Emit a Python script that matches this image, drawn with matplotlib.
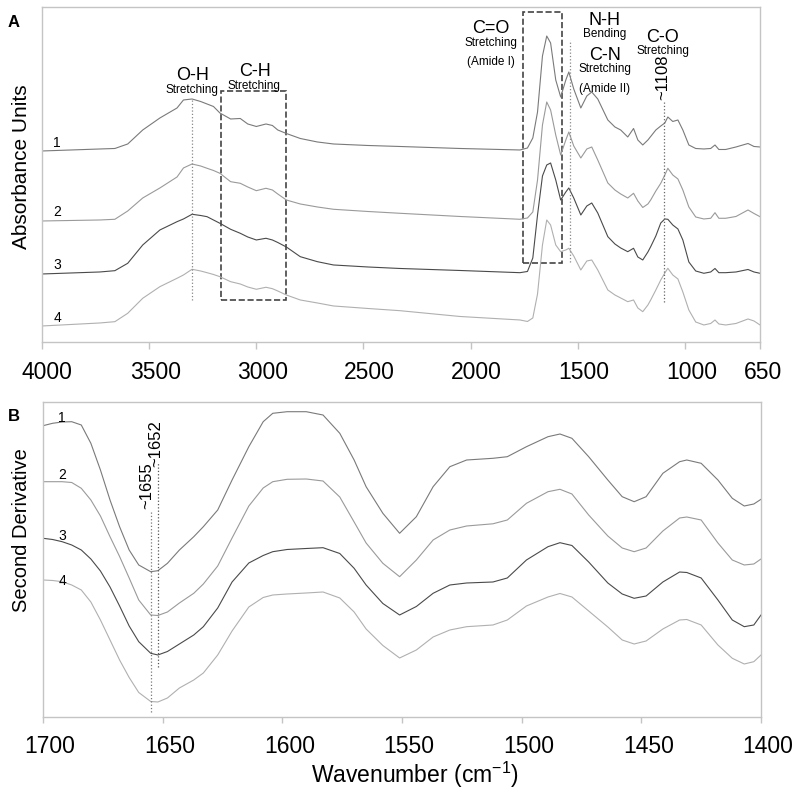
import matplotlib
matplotlib.use("Agg")
import matplotlib.pyplot as plt
from matplotlib.patches import Rectangle
from matplotlib.transforms import ScaledTranslation

plt.rcParams['font.family'] = ['Liberation Sans', 'DejaVu Sans']
plt.rcParams['mathtext.fontset'] = 'custom'
plt.rcParams['mathtext.rm'] = 'Liberation Sans'
plt.rcParams['mathtext.default'] = 'regular'

# ---- panel A: FTIR absorbance spectra (stacked, arbitrary units) ----
wn_a = [4000, 3730, 3660, 3600, 3530, 3450, 3370, 3340, 3300, 3260,
        3230, 3200, 3170, 3120, 3075, 3040, 3000, 2955, 2925, 2900,
        2860, 2795, 2715, 2640, 2480, 2330, 2050, 1770, 1735, 1710,
        1688, 1665, 1645, 1627, 1603, 1580, 1556, 1542, 1519, 1486,
        1458, 1435, 1407, 1360, 1327, 1300, 1267, 1240, 1220, 1197,
        1173, 1160, 1136, 1113, 1094, 1080, 1057, 1033, 1010, 982,
        950, 912, 880, 860, 842, 810, 762, 706, 678, 650]

abs_1 = [1.91, 1.93, 1.935, 1.98, 2.12, 2.24, 2.34, 2.42, 2.43, 2.405,
         2.38, 2.355, 2.29, 2.23, 2.235, 2.18, 2.155, 2.18, 2.165, 2.12,
         2.085, 2.035, 2.00, 1.98, 1.965, 1.955, 1.935, 1.92, 1.94, 2.04,
         2.30, 2.86, 3.06, 2.99, 2.62, 2.45, 2.62, 2.70, 2.53, 2.34,
         2.46, 2.50, 2.43, 2.22, 2.15, 2.12, 2.05, 2.135, 2.02, 1.97,
         2.02, 2.055, 2.12, 2.16, 2.19, 2.25, 2.205, 2.22, 2.12, 1.97,
         1.935, 1.93, 1.935, 1.97, 1.925, 1.925, 1.95, 1.985, 1.955, 1.95]

abs_2 = [1.21, 1.22, 1.227, 1.31, 1.44, 1.54, 1.65, 1.74, 1.78, 1.76,
         1.737, 1.715, 1.687, 1.603, 1.587, 1.55, 1.513, 1.537, 1.52, 1.48,
         1.42, 1.38, 1.35, 1.327, 1.305, 1.287, 1.255, 1.227, 1.24, 1.30,
         1.62, 2.17, 2.40, 2.32, 2.07, 1.87, 2.02, 2.10, 1.96, 1.84,
         1.93, 1.95, 1.82, 1.59, 1.52, 1.48, 1.44, 1.487, 1.41, 1.345,
         1.38, 1.42, 1.51, 1.587, 1.67, 1.737, 1.67, 1.63, 1.52, 1.35,
         1.25, 1.23, 1.237, 1.293, 1.237, 1.237, 1.255, 1.32, 1.285, 1.253]

abs_3 = [0.68, 0.70, 0.713, 0.787, 0.97, 1.12, 1.203, 1.23, 1.277, 1.265,
         1.253, 1.22, 1.187, 1.127, 1.087, 1.05, 1.02, 1.037, 1.02, 0.995,
         0.95, 0.853, 0.803, 0.77, 0.75, 0.735, 0.715, 0.693, 0.705, 0.84,
         1.27, 1.66, 1.77, 1.79, 1.62, 1.42, 1.50, 1.54, 1.44, 1.27,
         1.36, 1.39, 1.29, 1.053, 0.98, 0.94, 0.903, 0.937, 0.85, 0.82,
         0.90, 0.953, 1.06, 1.19, 1.23, 1.227, 1.17, 1.13, 1.02, 0.80,
         0.71, 0.687, 0.70, 0.735, 0.693, 0.693, 0.70, 0.725, 0.70, 0.687]

abs_4 = [0.16, 0.19, 0.203, 0.287, 0.437, 0.553, 0.637, 0.67, 0.727, 0.71,
         0.693, 0.675, 0.653, 0.603, 0.58, 0.55, 0.527, 0.547, 0.533, 0.51,
         0.47, 0.42, 0.39, 0.36, 0.335, 0.313, 0.255, 0.22, 0.205, 0.24,
         0.48, 0.97, 1.22, 1.17, 0.97, 0.903, 0.92, 0.937, 0.86, 0.72,
         0.81, 0.82, 0.72, 0.52, 0.47, 0.44, 0.403, 0.42, 0.34, 0.303,
         0.37, 0.42, 0.52, 0.62, 0.69, 0.737, 0.67, 0.63, 0.50, 0.32,
         0.20, 0.17, 0.185, 0.22, 0.18, 0.17, 0.185, 0.23, 0.21, 0.17]

ticks_a = [4000, 3500, 3000, 2500, 2000, 1500, 1000, 650]

# ---- panel B: second derivative, amide I region ----
wn_b = [1700, 1696, 1692, 1688, 1684, 1680, 1676, 1672, 1668, 1664,
        1660, 1655, 1652, 1648, 1643, 1637, 1633, 1627, 1621, 1614,
        1608, 1604, 1598, 1590, 1583, 1576, 1570, 1565, 1558, 1551,
        1544, 1537, 1530, 1523, 1512, 1506, 1498, 1489, 1484, 1479,
        1472, 1464, 1458, 1453, 1448, 1441, 1434, 1431, 1425, 1418,
        1412, 1407, 1403, 1400]

d2_1 = [2.913, 2.937, 2.95, 2.953, 2.92, 2.737, 2.47, 2.17, 1.903, 1.67,
        1.52, 1.453, 1.463, 1.537, 1.67, 1.803, 1.903, 2.07, 2.37, 2.703,
        2.953, 3.037, 3.053, 3.053, 3.02, 2.837, 2.57, 2.303, 2.037, 1.837,
        2.003, 2.303, 2.503, 2.57, 2.587, 2.603, 2.703, 2.803, 2.83, 2.787,
        2.603, 2.37, 2.203, 2.153, 2.203, 2.437, 2.553, 2.57, 2.537, 2.37,
        2.187, 2.11, 2.13, 2.177]

d2_2 = [2.353, 2.353, 2.353, 2.345, 2.287, 2.17, 2.01, 1.803, 1.605, 1.39,
        1.17, 1.02, 1.015, 1.05, 1.14, 1.237, 1.33, 1.51, 1.79, 2.11,
        2.29, 2.353, 2.377, 2.38, 2.36, 2.20, 1.95, 1.74, 1.537, 1.403,
        1.57, 1.77, 1.87, 1.91, 1.932, 1.97, 2.137, 2.253, 2.277, 2.23,
        2.02, 1.81, 1.69, 1.653, 1.69, 1.86, 1.99, 2.00, 1.97, 1.74,
        1.57, 1.52, 1.53, 1.58]

d2_3 = [1.787, 1.775, 1.753, 1.72, 1.67, 1.58, 1.46, 1.30, 1.11, 0.91,
        0.753, 0.637, 0.62, 0.655, 0.73, 0.82, 0.903, 1.09, 1.35, 1.54,
        1.615, 1.653, 1.675, 1.685, 1.693, 1.635, 1.487, 1.32, 1.135, 1.02,
        1.105, 1.237, 1.32, 1.34, 1.35, 1.39, 1.57, 1.703, 1.743, 1.715,
        1.55, 1.34, 1.23, 1.187, 1.21, 1.35, 1.45, 1.445, 1.39, 1.17,
        0.97, 0.903, 0.92, 1.02]

d2_4 = [1.37, 1.365, 1.353, 1.32, 1.27, 1.15, 0.97, 0.77, 0.57, 0.395,
        0.245, 0.155, 0.15, 0.19, 0.29, 0.37, 0.44, 0.62, 0.86, 1.10,
        1.195, 1.22, 1.23, 1.24, 1.25, 1.19, 1.05, 0.88, 0.715, 0.59,
        0.67, 0.80, 0.87, 0.903, 0.92, 0.97, 1.11, 1.20, 1.235, 1.20,
        1.06, 0.90, 0.77, 0.73, 0.76, 0.88, 0.97, 0.975, 0.92, 0.72,
        0.587, 0.53, 0.553, 0.62]

ticks_b = [1700, 1650, 1600, 1550, 1500, 1450, 1400]

sample_labels = ['1', '2', '3', '4']
line_colors = ['#7a7a7a', '#9a9a9a', '#4a4a4a', '#b0b0b0']
spine_color = '#c4c4c4'


def style_axes(ax, ticks, tick_len, shifts):
    for s in ax.spines.values():
        s.set_color(spine_color)
        s.set_linewidth(1.0)
    ax.set_yticks([])
    ax.set_xticks(ticks)
    ax.set_xticklabels([str(t) for t in ticks])
    ax.tick_params(axis='x', direction='out', length=tick_len, width=1.0,
                   color=spine_color, labelsize=16.5, pad=9)
    # the original labels sit a few pixels right of their ticks
    for lab, dx in zip(ax.get_xticklabels(), shifts):
        lab.set_transform(lab.get_transform() +
                          ScaledTranslation(dx / 100, 0, fig.dpi_scale_trans))


fig = plt.figure(figsize=(8, 7.94), dpi=100)

# Panel A
ax1 = fig.add_axes([0.0525, 0.5693, 0.8975, 0.4219])
for ys, c in zip([abs_1, abs_2, abs_3, abs_4], line_colors):
    ax1.plot(wn_a, ys, color=c, lw=0.8)
ax1.set_xlim(4000, 650)
ax1.set_ylim(0, 3.35)
style_axes(ax1, ticks_a, 5, [5, 6, 6, 6, 6, 6, 7, 2.5])

for lab, y in zip(sample_labels, [1.99, 1.30, 0.77, 0.24]):
    ax1.text(3930, y, lab, fontsize=10, ha='center', va='center')

# marker lines and boxes
ax1.plot([3298, 3298], [0.42, 2.42], ls=':', color='#888888', lw=0.9)
ax1.plot([1538, 1538], [0.80, 3.02], ls=':', color='#888888', lw=0.9)
ax1.plot([1100, 1100], [0.40, 2.42], ls=':', color='#666666', lw=0.9)
ax1.add_patch(Rectangle((3164, 0.42), 2860 - 3164, 2.513 - 0.42, fill=False,
                        ls='--', lw=1.2, ec='#444444'))
ax1.add_patch(Rectangle((1757, 0.787), 1574 - 1757, 3.303 - 0.787, fill=False,
                        ls='--', lw=1.2, ec='#444444'))

big, small = 13, 8.5
ax1.text(3299, 2.66, 'O-H', fontsize=big, ha='center', va='center')
ax1.text(3299, 2.52, 'Stretching', fontsize=small, ha='center', va='center')
ax1.text(3005, 2.70, 'C-H', fontsize=big, ha='center', va='center')
ax1.text(3009, 2.555, 'Stretching', fontsize=small, ha='center', va='center')
ax1.text(1904, 3.13, 'C=O', fontsize=big, ha='center', va='center')
ax1.text(1904, 2.99, 'Stretching', fontsize=small, ha='center', va='center')
ax1.text(1904, 2.797, '(Amide I)', fontsize=small, ha='center', va='center')
ax1.text(1374, 3.215, 'N-H', fontsize=big, ha='center', va='center')
ax1.text(1374, 3.08, 'Bending', fontsize=small, ha='center', va='center')
ax1.text(1374, 2.86, 'C-N', fontsize=big, ha='center', va='center')
ax1.text(1374, 2.725, 'Stretching', fontsize=small, ha='center', va='center')
ax1.text(1374, 2.527, '(Amide II)', fontsize=small, ha='center', va='center')
ax1.text(1105, 3.04, 'C-O', fontsize=big, ha='center', va='center')
ax1.text(1105, 2.905, 'Stretching', fontsize=small, ha='center', va='center')
ax1.text(1105, 2.65, '~1108', fontsize=12, ha='center', va='center', rotation=90)

# Panel B
ax2 = fig.add_axes([0.05375, 0.0970, 0.8975, 0.3967])
for ys, c in zip([d2_1, d2_2, d2_3, d2_4], line_colors):
    ax2.plot(wn_b, ys, color=c, lw=0.8)
ax2.set_xlim(1700, 1400)
ax2.set_ylim(0, 3.15)
style_axes(ax2, ticks_b, 4, [7, 7, 7, 7, 7, 7, 7])

for lab, y in zip(sample_labels, [2.99, 2.42, 1.81, 1.36]):
    ax2.text(1692, y, lab, fontsize=10, ha='center', va='center')

ax2.plot([1655, 1655], [0.05, 2.05], ls=':', color='#777777', lw=0.9)
ax2.plot([1652, 1652], [0.50, 2.54], ls=':', color='#555555', lw=0.9)
ax2.text(1656.7, 2.31, '~1655', fontsize=12, ha='center', va='center', rotation=90)
ax2.text(1652.8, 2.73, '~1652', fontsize=12, ha='center', va='center', rotation=90)

# axis titles and panel letters
fig.text(22 / 800, 1 - 167 / 794, 'Absorbance Units', rotation=90,
         ha='center', va='center', fontsize=15)
fig.text(22 / 800, 1 - 530 / 794, 'Second Derivative', rotation=90,
         ha='center', va='center', fontsize=14.5)
fig.text(415 / 800, 1 - 775 / 794, 'Wavenumber (cm$^{-1}$)',
         ha='center', va='center', fontsize=16.5)
fig.text(14 / 800, 1 - 22.5 / 794, 'A', fontsize=12, fontweight='bold',
         ha='center', va='center')
fig.text(13.5 / 800, 1 - 416.5 / 794, 'B', fontsize=12, fontweight='bold',
         ha='center', va='center')

fig.savefig('out.png', dpi=100)
